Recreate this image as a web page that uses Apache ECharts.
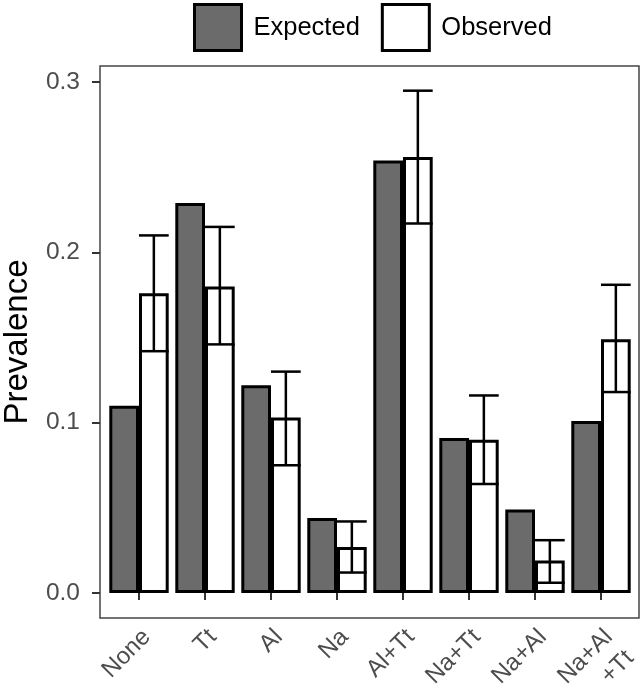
<!DOCTYPE html>
<html>
<head>
<meta charset="utf-8">
<script src="https://cdn.jsdelivr.net/npm/echarts@6/dist/echarts.min.js"></script>
<style>
html,body{margin:0;padding:0;background:#fff;}
#chart{width:643px;height:692px;}
</style>
</head>
<body>
<div id="chart"></div>
<script>
const categories = ['None', 'Tt', 'Al', 'Na', 'Al+Tt', 'Na+Tt', 'Na+Al', 'Na+Al\n+Tt'];
const expected = [0.110, 0.229, 0.122, 0.044, 0.254, 0.091, 0.049, 0.101];
const observed = [0.176, 0.180, 0.103, 0.027, 0.256, 0.090, 0.019, 0.149];
const obsLower = [0.142, 0.146, 0.075, 0.012, 0.217, 0.064, 0.006, 0.118];
const obsUpper = [0.210, 0.215, 0.130, 0.042, 0.295, 0.116, 0.031, 0.181];
const yTicks = [0, 0.1, 0.2, 0.3];
const seriesNames = ['Expected', 'Observed'];

const FONT = 'Liberation Sans, Arial, Helvetica, sans-serif';
const chart = echarts.init(document.getElementById('chart'), null, {renderer: 'canvas'});

const errData = categories.map((c, i) => [i, obsLower[i], obsUpper[i], observed[i]]);

const option = {
  backgroundColor: '#fff',
  animation: false,
  textStyle: {fontFamily: FONT},
  legend: {
    data: seriesNames,
    top: 3,
    left: 193,
    padding: 0,
    icon: 'rect',
    itemWidth: 47,
    itemHeight: 46,
    itemGap: 21,
    itemStyle: {borderColor: '#000', borderWidth: 3},
    textStyle: {fontSize: 25.5, color: '#000', fontFamily: FONT, padding: [0, 0, 0, 7]}
  },
  grid: [
    {left: 106, right: 9, top: 66, bottom: 74, containLabel: false, outerBoundsMode: 'none'},
    {left: 100, right: 4, top: 66, bottom: 74, show: true, borderColor: '#444', borderWidth: 1.5,
     backgroundColor: 'transparent', z: 0, outerBoundsMode: 'none'}
  ],
  xAxis: [
    {
      type: 'category',
      gridIndex: 0,
      data: categories,
      axisLine: {show: false},
      axisTick: {show: true, alignWithLabel: true, length: 7, lineStyle: {color: '#333', width: 2}},
      axisLabel: {rotate: 45, fontSize: 24, color: '#4d4d4d', margin: 2, fontFamily: FONT,
        lineHeight: 30, align: 'right', verticalAlign: 'top', padding: [0, 4, 0, 0]}
    },
    {type: 'value', gridIndex: 1, show: false}
  ],
  yAxis: [
    {
      type: 'value',
      gridIndex: 0,
      min: -0.0147,
      max: 0.3095,
      offset: 6,
      name: 'Prevalence',
      nameLocation: 'middle',
      nameGap: 66,
      nameTextStyle: {fontSize: 33, color: '#000', fontFamily: FONT},
      axisLine: {show: false},
      splitLine: {show: false},
      axisTick: {show: true, length: 8, customValues: yTicks, lineStyle: {color: '#333', width: 2}},
      axisLabel: {customValues: yTicks, fontSize: 24.5, color: '#4d4d4d', margin: 20, fontFamily: FONT,
        formatter: v => v.toFixed(1)}
    },
    {type: 'value', gridIndex: 1, show: false}
  ],
  series: [
    {
      name: 'Expected',
      type: 'bar',
      xAxisIndex: 0, yAxisIndex: 0,
      data: expected,
      barGap: '0%',
      barCategoryGap: '10%',
      itemStyle: {color: '#6b6b6b', borderColor: '#000', borderWidth: 3},
      z: 2
    },
    {
      name: 'Observed',
      type: 'bar',
      xAxisIndex: 0, yAxisIndex: 0,
      data: observed,
      barGap: '0%',
      barCategoryGap: '10%',
      itemStyle: {color: '#fff', borderColor: '#000', borderWidth: 3},
      z: 2
    },
    {
      name: 'err',
      type: 'custom',
      xAxisIndex: 0, yAxisIndex: 0,
      data: errData,
      z: 5,
      silent: true,
      encode: {x: 0, y: [1, 2]},
      renderItem: function (params, api) {
        const idx = api.value(0);
        const lo = api.coord([idx, api.value(1)]);
        const hi = api.coord([idx, api.value(2)]);
        const band = api.size([1, 0])[0];
        const barW = band * 0.45;
        const cx = lo[0] + barW / 2;
        const half = barW / 2;
        const style = {stroke: '#000', lineWidth: 2.5, fill: null};
        return {
          type: 'group',
          children: [
            {type: 'line', shape: {x1: cx, y1: lo[1], x2: cx, y2: hi[1]}, style: style},
            {type: 'line', shape: {x1: cx - half, y1: lo[1], x2: cx + half, y2: lo[1]}, style: style},
            {type: 'line', shape: {x1: cx - half, y1: hi[1], x2: cx + half, y2: hi[1]}, style: style}
          ]
        };
      }
    }
  ]
};
chart.setOption(option);
</script>
</body>
</html>
